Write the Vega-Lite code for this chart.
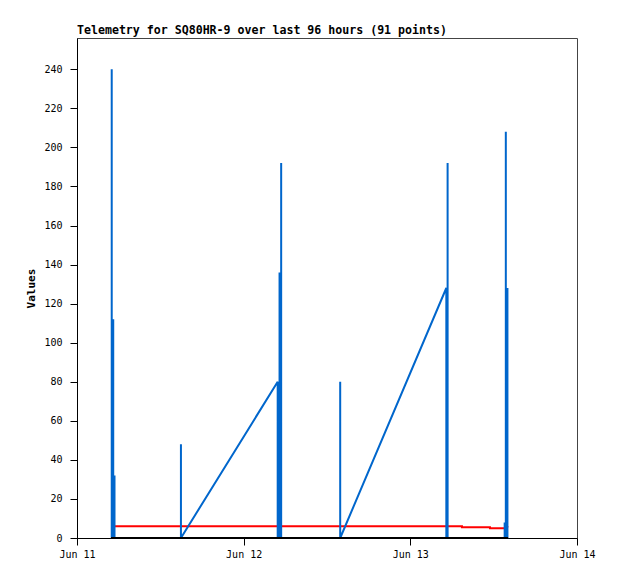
{
  "$schema": "https://vega.github.io/schema/vega-lite/v6.json",
  "width": 500,
  "height": 500,
  "autosize": {"type": "none"},
  "padding": {"left": 77, "top": 38, "right": 41, "bottom": 41},
  "background": "white",
  "title": {
    "text": "Telemetry for SQ80HR-9 over last 96 hours (91 points)",
    "anchor": "start",
    "frame": "group",
    "font": "DejaVu Sans Mono",
    "fontSize": 11.6,
    "fontWeight": "bold",
    "color": "black",
    "offset": 1
  },
  "config": {
    "view": {"stroke": "#444444", "strokeWidth": 1},
    "axis": {
      "domainColor": "black",
      "tickColor": "black",
      "tickSize": 7,
      "grid": false,
      "labelFont": "DejaVu Sans Mono",
      "labelFontSize": 10,
      "labelColor": "black",
      "titleFont": "DejaVu Sans Mono",
      "titleFontSize": 11,
      "titleFontWeight": "bold",
      "titleColor": "black"
    }
  },
  "datasets": {
    "blue": [
      {"t": "2024-06-11T04:54:00Z", "v": 0},
      {"t": "2024-06-11T05:00:00Z", "v": 0},
      {"t": "2024-06-11T05:00:00Z", "v": 240},
      {"t": "2024-06-11T05:00:00Z", "v": 0},
      {"t": "2024-06-11T05:13:00Z", "v": 0},
      {"t": "2024-06-11T05:13:00Z", "v": 112},
      {"t": "2024-06-11T05:13:00Z", "v": 0},
      {"t": "2024-06-11T05:24:00Z", "v": 0},
      {"t": "2024-06-11T05:24:00Z", "v": 32},
      {"t": "2024-06-11T05:24:00Z", "v": 0},
      {"t": "2024-06-11T14:58:00Z", "v": 0},
      {"t": "2024-06-11T14:58:00Z", "v": 48},
      {"t": "2024-06-11T14:58:00Z", "v": 0},
      {"t": "2024-06-12T04:54:00Z", "v": 80},
      {"t": "2024-06-12T04:54:00Z", "v": 0},
      {"t": "2024-06-12T05:10:00Z", "v": 0},
      {"t": "2024-06-12T05:10:00Z", "v": 136},
      {"t": "2024-06-12T05:10:00Z", "v": 0},
      {"t": "2024-06-12T05:24:00Z", "v": 0},
      {"t": "2024-06-12T05:24:00Z", "v": 192},
      {"t": "2024-06-12T05:24:00Z", "v": 0},
      {"t": "2024-06-12T13:54:00Z", "v": 0},
      {"t": "2024-06-12T13:54:00Z", "v": 80},
      {"t": "2024-06-12T13:54:00Z", "v": 0},
      {"t": "2024-06-13T05:11:00Z", "v": 128},
      {"t": "2024-06-13T05:11:00Z", "v": 0},
      {"t": "2024-06-13T05:22:00Z", "v": 0},
      {"t": "2024-06-13T05:22:00Z", "v": 192},
      {"t": "2024-06-13T05:22:00Z", "v": 0},
      {"t": "2024-06-13T13:35:00Z", "v": 0},
      {"t": "2024-06-13T13:35:00Z", "v": 8},
      {"t": "2024-06-13T13:35:00Z", "v": 0},
      {"t": "2024-06-13T13:45:00Z", "v": 0},
      {"t": "2024-06-13T13:45:00Z", "v": 208},
      {"t": "2024-06-13T13:45:00Z", "v": 0},
      {"t": "2024-06-13T13:59:00Z", "v": 0},
      {"t": "2024-06-13T13:59:00Z", "v": 128},
      {"t": "2024-06-13T13:59:00Z", "v": 0},
      {"t": "2024-06-13T14:05:00Z", "v": 0}
    ],
    "red": [
      {"t": "2024-06-11T04:54:00Z", "v": 6},
      {"t": "2024-06-13T07:26:00Z", "v": 6},
      {"t": "2024-06-13T07:26:00Z", "v": 5.5},
      {"t": "2024-06-13T11:28:00Z", "v": 5.5},
      {"t": "2024-06-13T11:28:00Z", "v": 5},
      {"t": "2024-06-13T13:40:00Z", "v": 5},
      {"t": "2024-06-13T14:05:00Z", "v": 6}
    ],
    "black": [
      {"t": "2024-06-11T04:54:00Z", "v": 0},
      {"t": "2024-06-13T14:05:00Z", "v": 0}
    ]
  },
  "encoding": {
    "x": {
      "field": "t",
      "type": "temporal",
      "scale": {
        "type": "utc",
        "domain": [
          {"year": 2024, "month": 6, "date": 11, "utc": true},
          {"year": 2024, "month": 6, "date": 14, "utc": true}
        ]
      },
      "axis": {
        "title": null,
        "values": [
          {"year": 2024, "month": 6, "date": 11, "utc": true},
          {"year": 2024, "month": 6, "date": 12, "utc": true},
          {"year": 2024, "month": 6, "date": 13, "utc": true},
          {"year": 2024, "month": 6, "date": 14, "utc": true}
        ],
        "labelExpr": "utcFormat(datum.value, '%b %d')",
        "labelPadding": 4,
        "labelFlush": false,
        "labelOverlap": false
      }
    },
    "y": {
      "field": "v",
      "type": "quantitative",
      "scale": {"domain": [0, 256], "nice": false, "zero": true},
      "axis": {
        "title": "Values",
        "values": [0, 20, 40, 60, 80, 100, 120, 140, 160, 180, 200, 220, 240],
        "labelPadding": 8,
        "titleX": -46,
        "titleY": 250,
        "titleAngle": -90,
        "titleBaseline": "middle",
        "titleAlign": "center"
      }
    }
  },
  "layer": [
    {
      "data": {"name": "red"},
      "mark": {"type": "line", "color": "#ff0000", "strokeWidth": 2, "interpolate": "linear"}
    },
    {
      "data": {"name": "blue"},
      "mark": {"type": "line", "color": "#0066cc", "strokeWidth": 2, "interpolate": "linear", "strokeJoin": "bevel"}
    },
    {
      "data": {"name": "black"},
      "mark": {"type": "line", "color": "#000000", "strokeWidth": 2, "interpolate": "linear"}
    }
  ]
}
